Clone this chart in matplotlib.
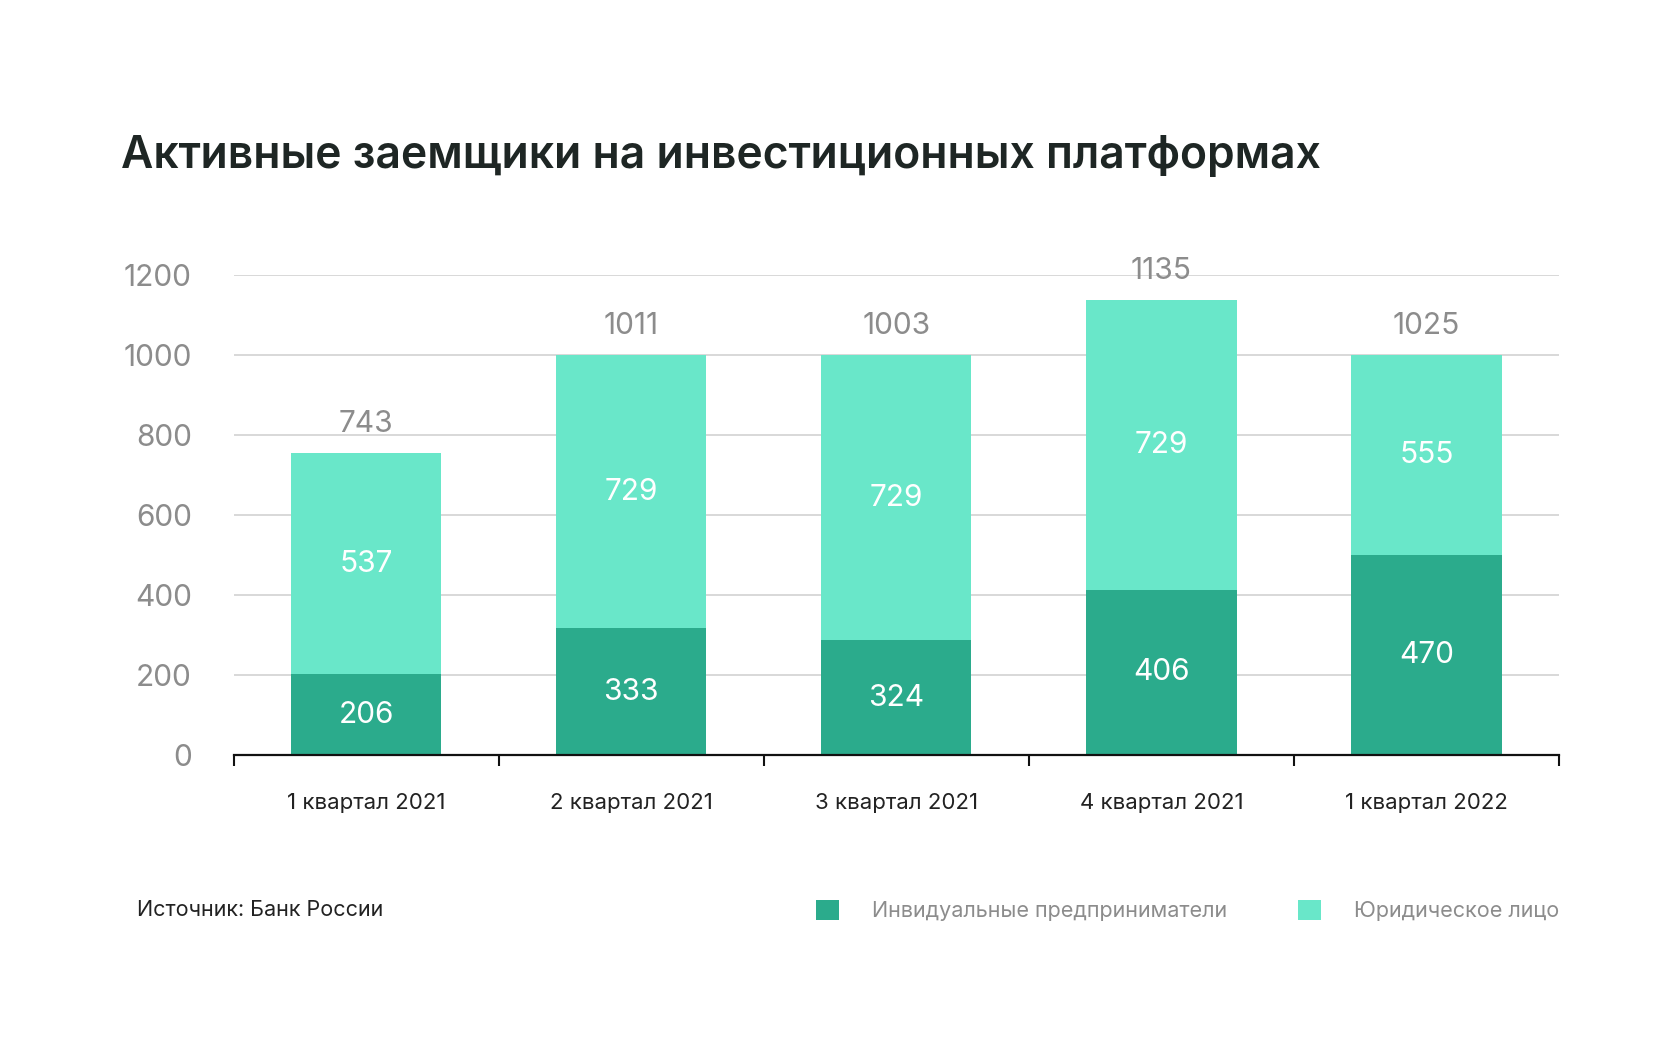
import matplotlib
matplotlib.use("Agg")
import matplotlib.pyplot as plt
import numpy as np

plt.rcParams['font.family'] = ['Inter', 'DejaVu Sans']

quarters = ["1 квартал 2021", "2 квартал 2021", "3 квартал 2021", "4 квартал 2021", "1 квартал 2022"]
# bar heights as drawn in the picture (they don't quite match the printed labels)
ip_heights = [202, 317, 287, 413, 501]
le_heights = [553, 683, 713, 725, 499]
# printed labels
ip_labels = ["206", "333", "324", "406", "470"]
le_labels = ["537", "729", "729", "729", "555"]
total_labels = ["743", "1011", "1003", "1135", "1025"]

dark = "#2BAB8C"
light = "#69E7C9"
gray = "#8C8C8C"

fig = plt.figure(figsize=(16.8, 10.44), dpi=100)
ax = fig.add_axes([0.139, 0.2768, 0.789, 0.4595])

x = np.arange(len(quarters))
w = 0.567
b1 = ax.bar(x, ip_heights, width=w, color=dark, zorder=3, label="Инвидуальные предприниматели")
b2 = ax.bar(x, le_heights, width=w, bottom=ip_heights, color=light, zorder=3, label="Юридическое лицо")

for i in range(len(x)):
    ax.text(x[i], ip_heights[i] / 2, ip_labels[i], ha='center', va='center',
            color='white', fontsize=21.5, zorder=4)
    ax.text(x[i], ip_heights[i] + le_heights[i] / 2, le_labels[i], ha='center', va='center',
            color='white', fontsize=21.5, zorder=4)
    ax.annotate(total_labels[i], (x[i], ip_heights[i] + le_heights[i]), xytext=(0, 21),
                textcoords='offset points', ha='center', va='center', color=gray,
                fontsize=21.5, clip_on=False)

ax.set_xlim(-0.5, len(x) - 0.5)
ax.set_ylim(0, 1200)
ax.set_yticks(np.arange(0, 1201, 200))
ax.grid(axis='y', color='#D2D2D2', linewidth=1.2, zorder=0)
ax.tick_params(axis='y', length=0, pad=30, labelsize=21.5, labelcolor=gray)

ax.set_xticks(x)
ax.set_xticklabels(quarters)
ax.set_xticks(np.arange(-0.5, len(x), 1), minor=True)
ax.tick_params(axis='x', which='major', length=0, pad=27, labelsize=16, labelcolor='#222222')
ax.tick_params(axis='x', which='minor', length=8, width=1.5, color='#111111')

for s in ['top', 'right', 'left']:
    ax.spines[s].set_visible(False)
ax.spines['bottom'].set_linewidth(1.6)
ax.spines['bottom'].set_color('#111111')
ax.spines['bottom'].set_zorder(5)

fig.text(0.072, 0.839, "Активные заемщики на инвестиционных платформах",
         fontsize=32, fontweight='semibold', color='#1E2624', va='baseline')
fig.text(0.0815, 0.128, "Источник: Банк России", fontsize=15.5, color='#222222', va='center')

fig.legend(handles=[b1, b2], loc='center right', bbox_to_anchor=(0.928, 0.128), ncol=2,
           frameon=False, fontsize=15.5, labelcolor=gray, handlelength=1.1, handleheight=1.1,
           handletextpad=1.5, columnspacing=3.3, borderpad=0, borderaxespad=0)

fig.savefig("out.png", dpi=100, facecolor='white')
